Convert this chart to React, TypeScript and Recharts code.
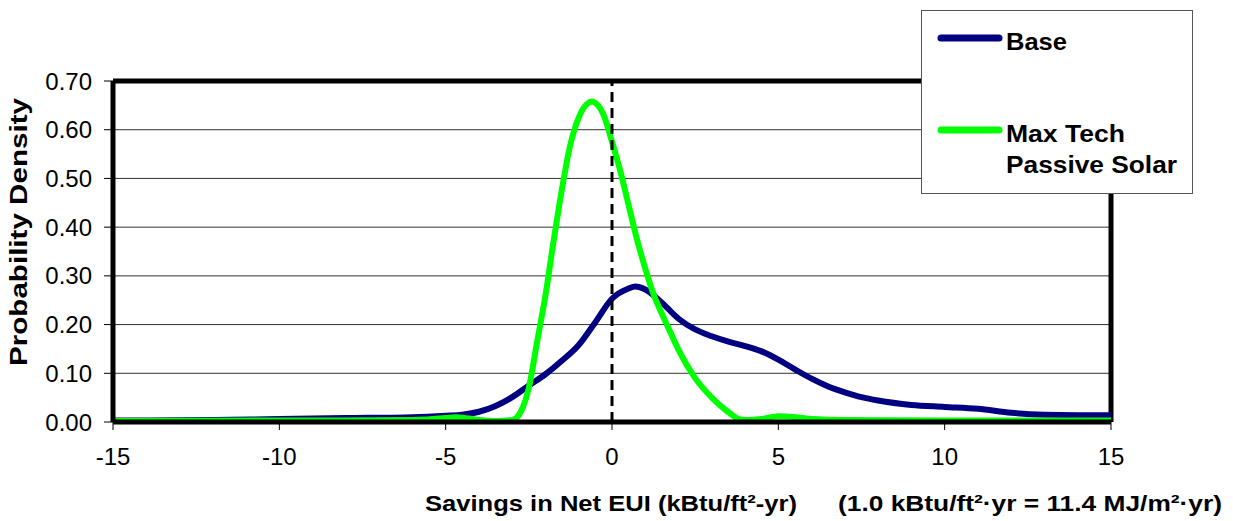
import React from 'react';
import { LineChart, Line, XAxis, YAxis, CartesianGrid, ReferenceLine, Legend, Label } from 'recharts';

const FONT = '"Liberation Sans", Arial, Helvetica, sans-serif';

const xTicks = [-15, -10, -5, 0, 5, 10, 15];
const yTicks = [0, 0.1, 0.2, 0.3, 0.4, 0.5, 0.6, 0.7];

const baseX = [-15, -12, -10, -8, -6, -5, -4.5, -4, -3.5, -3, -2.5, -2, -1.5, -1, -0.5, 0, 0.5, 0.7, 1, 1.5, 2, 2.5, 3, 3.5, 4, 4.5, 5, 5.5, 6, 6.5, 7, 7.5, 8, 9, 10, 11, 12, 13, 14, 15];
const baseY = [0.003, 0.004, 0.006, 0.008, 0.010, 0.013, 0.015, 0.021, 0.033, 0.051, 0.075, 0.098, 0.126, 0.158, 0.205, 0.253, 0.274, 0.278, 0.272, 0.245, 0.212, 0.190, 0.176, 0.165, 0.156, 0.145, 0.128, 0.108, 0.089, 0.073, 0.061, 0.051, 0.044, 0.035, 0.031, 0.027, 0.019, 0.015, 0.014, 0.014];

const maxTechX = [-15, -10, -6, -5, -4.7, -4.3, -4, -3.5, -3, -2.75, -2.5, -2.25, -2, -1.75, -1.5, -1.25, -1, -0.75, -0.6, -0.5, -0.25, 0, 0.25, 0.5, 0.75, 1, 1.25, 1.5, 1.75, 2, 2.5, 3, 3.5, 3.75, 4, 4.5, 5, 5.5, 6, 7, 10, 15];
const maxTechY = [0.002, 0.003, 0.004, 0.008, 0.010, 0.007, 0.004, 0.002, 0.004, 0.02, 0.07, 0.165, 0.26, 0.374, 0.48, 0.57, 0.625, 0.653, 0.658, 0.655, 0.63, 0.575, 0.515, 0.445, 0.375, 0.315, 0.262, 0.222, 0.185, 0.148, 0.09, 0.05, 0.02, 0.008, 0.004, 0.006, 0.012, 0.010, 0.006, 0.004, 0.003, 0.003];

const seriesNames = ['Base', 'Max Tech Passive Solar'];
const seriesColors = ['#000080', '#00FF00'];
const legendLines = [['Base'], ['Max Tech', 'Passive Solar']];
const legendLengths = [[61], [119, 171]];
const xTitle = 'Savings in Net EUI (kBtu/ft²-yr)';
const xNote = '(1.0 kBtu/ft²·yr = 11.4 MJ/m²·yr)';
const yTitle = 'Probability Density';

const baseData = baseX.map((x, i) => ({ x, y: baseY[i] }));
const maxTechData = maxTechX.map((x, i) => ({ x, y: maxTechY[i] }));

const LegendBox = (props: any) => {
  const payload = props.payload || [];
  const lineY = [28, 120];
  const textY = [[40], [132, 163]];
  return (
    <svg width={272} height={184} style={{ display: 'block' }}>
      <rect x={0.5} y={0.5} width={271} height={183} fill="#fff" stroke="#555" strokeWidth={1} />
      {payload.map((p: any, i: number) => (
        <g key={i}>
          <line x1={20} x2={78} y1={lineY[i]} y2={lineY[i]} stroke={p.color} strokeWidth={7} strokeLinecap="round" />
          {(legendLines[i] || []).map((t, j) => (
            <text key={j} x={85} y={textY[i][j]} fontFamily={FONT} fontWeight="bold" fontSize={24} fill="#000"
              textLength={legendLengths[i][j]} lengthAdjust="spacingAndGlyphs">{t}</text>
          ))}
        </g>
      ))}
    </svg>
  );
};

const XTitle = () => (
  <g>
    <text x={425} y={511} fontFamily={FONT} fontWeight="bold" fontSize={22} fill="#000" textLength={372} lengthAdjust="spacingAndGlyphs">{xTitle}</text>
    <text x={838} y={511} fontFamily={FONT} fontWeight="bold" fontSize={22} fill="#000" textLength={384} lengthAdjust="spacingAndGlyphs">{xNote}</text>
  </g>
);

const YTitle = () => (
  <text x={27} y={232} transform="rotate(-90, 27, 232)" textAnchor="middle" fontFamily={FONT} fontWeight="bold" fontSize={23} fill="#000" textLength={268} lengthAdjust="spacingAndGlyphs">{yTitle}</text>
);

export default function App() {
  return (
    <div style={{ position: 'absolute', left: 0, top: 0, width: 1233, height: 521, background: '#fff' }}>
      <LineChart width={1233} height={521} margin={{ top: 81, right: 122, bottom: 0, left: 0 }}>
        <CartesianGrid horizontal vertical={false} stroke="#333" strokeWidth={1} />
        <XAxis type="number" dataKey="x" domain={[-15, 15]} ticks={xTicks} height={99}
          axisLine={{ stroke: '#000', strokeWidth: 5 }} tickLine={{ stroke: '#000', strokeWidth: 1 }}
          tickSize={8} tickMargin={18} tick={{ fontSize: 24, fill: '#000', fontFamily: FONT }} allowDataOverflow>
          <Label content={XTitle} />
        </XAxis>
        <YAxis type="number" domain={[0, 0.7]} ticks={yTicks} width={113} tickFormatter={(v: number) => v.toFixed(2)}
          axisLine={{ stroke: '#000', strokeWidth: 5 }} tickLine={{ stroke: '#000', strokeWidth: 1 }}
          tickSize={9} tickMargin={12} tick={{ fontSize: 24, fill: '#000', fontFamily: FONT }} allowDataOverflow>
          <Label content={YTitle} />
        </YAxis>
        <ReferenceLine y={0.7} stroke="#000" strokeWidth={5} />
        <ReferenceLine x={15} stroke="#000" strokeWidth={5} />
        <Line data={baseData} dataKey="y" name={seriesNames[0]} type="monotone" stroke={seriesColors[0]} strokeWidth={6}
          dot={false} activeDot={false} isAnimationActive={false} />
        <Line data={maxTechData} dataKey="y" name={seriesNames[1]} type="monotone" stroke={seriesColors[1]} strokeWidth={6}
          dot={false} activeDot={false} isAnimationActive={false} />
        <ReferenceLine x={0} stroke="#000" strokeWidth={3} strokeDasharray="10 6" />
        <Legend layout="horizontal" verticalAlign="middle" align="center" content={LegendBox}
          wrapperStyle={{ position: 'absolute', left: 921, top: 10, width: 272, height: 184 }} />
      </LineChart>
    </div>
  );
}
